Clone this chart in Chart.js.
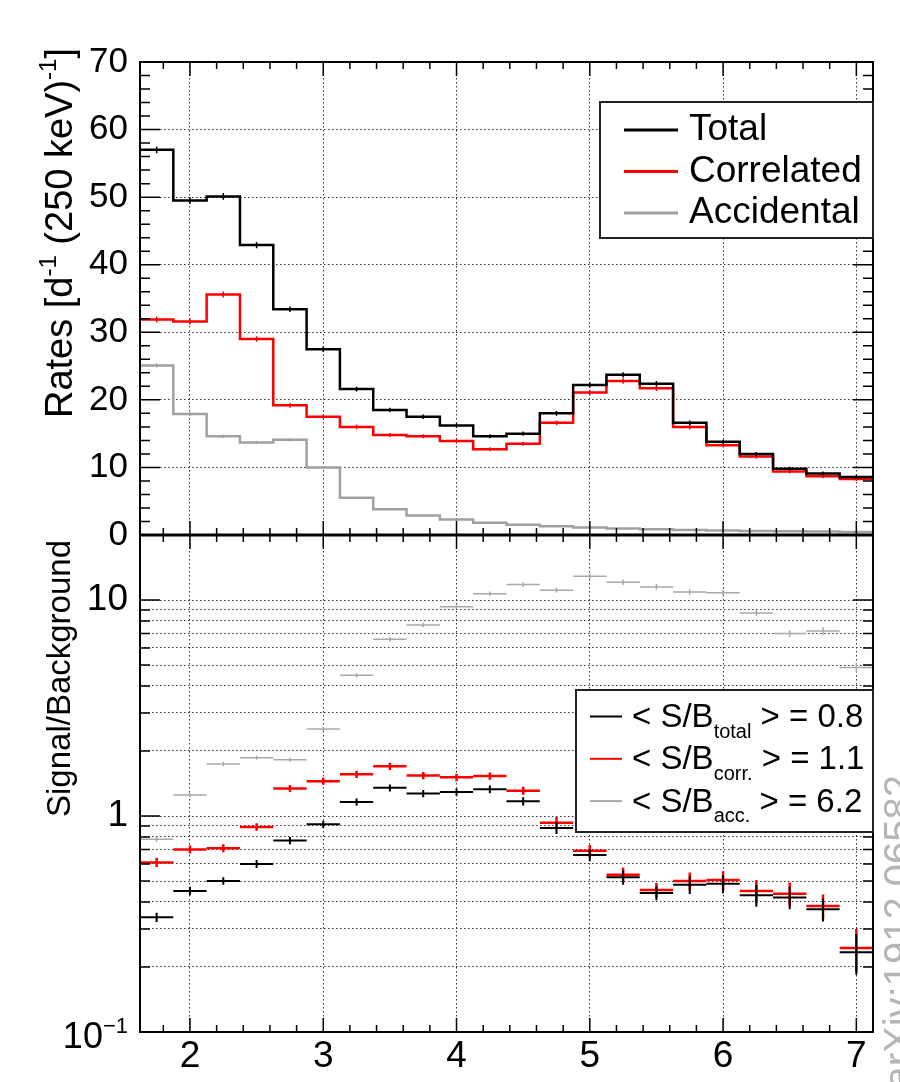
<!DOCTYPE html>
<html>
<head>
<meta charset="utf-8">
<title>Rates and signal/background</title>
<script src="https://cdn.jsdelivr.net/npm/chart.js@4.4.1/dist/chart.umd.min.js"></script>
<style>
    html, body { margin: 0; padding: 0; background: #fff; }
    .stage { position: relative; width: 900px; height: 1082px; }
    .stage canvas { position: absolute; left: 0; top: 0; }
</style>
</head>
<body>
<div class="stage">
    <canvas id="ratesChart" width="900" height="1082"></canvas>
    <canvas id="ratioChart" width="900" height="1082"></canvas>
</div>
<script>
// energy bins, 250 keV wide
const binCenters = [1.75, 2.0, 2.25, 2.5, 2.75, 3.0, 3.25, 3.5, 3.75, 4.0, 4.25,
    4.5, 4.75, 5.0, 5.25, 5.5, 5.75, 6.0, 6.25, 6.5, 6.75, 7.0];
const binWidth = 0.25;
const energyTicks = [2, 3, 4, 5, 6, 7];
const rateTicks = [0, 10, 20, 30, 40, 50, 60, 70];
const ratioTicks = [0.1, 0.2, 0.3, 0.4, 0.5, 0.6, 0.7, 0.8, 0.9, 1, 2, 3, 4, 5, 6, 7, 8, 9, 10, 20];
const ratioLabels = { 1: '1', 10: '10' };

// rates [d^-1 (250 keV)^-1]
const seriesNames = ['Total', 'Correlated', 'Accidental'];
const totalRates = [57.0, 49.5, 50.1, 42.9, 33.4, 27.5, 21.6, 18.5, 17.5, 16.2, 14.6,
    15.0, 18.0, 22.2, 23.7, 22.4, 16.6, 13.8, 12.0, 9.8, 9.1, 8.6];
const correlatedRates = [31.9, 31.6, 35.6, 29.0, 19.2, 17.5, 16.0, 14.8, 14.6, 13.9, 12.7,
    13.5, 16.6, 21.1, 22.8, 21.7, 16.0, 13.3, 11.6, 9.4, 8.7, 8.3];
const accidentalRates = [25.1, 17.9, 14.6, 13.7, 14.1, 10.0, 5.5, 3.8, 2.9, 2.3, 1.8,
    1.5, 1.3, 1.1, 0.95, 0.85, 0.75, 0.65, 0.6, 0.55, 0.5, 0.45];
const totalErr = [0.5, 0.5, 0.5, 0.45, 0.4, 0.4, 0.35, 0.35, 0.35, 0.35, 0.3,
    0.3, 0.35, 0.4, 0.4, 0.4, 0.35, 0.3, 0.3, 0.3, 0.3, 0.3];
const correlatedErr = [0.45, 0.45, 0.45, 0.4, 0.35, 0.35, 0.35, 0.3, 0.3, 0.3, 0.3,
    0.3, 0.35, 0.4, 0.4, 0.4, 0.35, 0.3, 0.3, 0.3, 0.3, 0.3];
const accidentalErr = [0.3, 0.25, 0.25, 0.25, 0.25, 0.2, 0.15, 0.1, 0.1, 0.1, 0.1,
    0.1, 0.1, 0.1, 0.1, 0.1, 0.1, 0.1, 0.1, 0.1, 0.1, 0.1];

// signal / background
const sbNames = ['total', 'corr.', 'acc.'];
const sbMeans = ['0.8', '1.1', '6.2'];
const sbTotal = [0.34, 0.45, 0.50, 0.60, 0.77, 0.915, 1.16, 1.35, 1.27, 1.29, 1.33,
    1.17, 0.88, 0.66, 0.52, 0.44, 0.48, 0.486, 0.43, 0.42, 0.37, 0.234];
const sbCorrelated = [0.61, 0.70, 0.71, 0.89, 1.34, 1.45, 1.56, 1.70, 1.54, 1.51, 1.53,
    1.31, 0.93, 0.69, 0.535, 0.455, 0.50, 0.505, 0.45, 0.437, 0.383, 0.245];
const sbAccidental = [0.78, 1.25, 1.74, 1.86, 1.82, 2.53, 4.48, 6.58, 7.66, 9.3, 10.7,
    11.8, 11.1, 12.9, 12.1, 11.5, 10.9, 10.8, 8.7, 6.99, 7.18, 4.87];
const sbTotalErr = [0.017, 0.02, 0.02, 0.025, 0.03, 0.035, 0.045, 0.05, 0.05, 0.05, 0.055,
    0.05, 0.055, 0.043, 0.04, 0.033, 0.045, 0.047, 0.05, 0.05, 0.045, 0.05];
const sbCorrelatedErr = [0.03, 0.03, 0.03, 0.035, 0.05, 0.055, 0.06, 0.065, 0.06, 0.06, 0.06,
    0.055, 0.06, 0.045, 0.042, 0.035, 0.047, 0.05, 0.055, 0.055, 0.05, 0.055];
const sbAccidentalErr = [0.02, 0.03, 0.04, 0.04, 0.04, 0.06, 0.1, 0.15, 0.18, 0.2, 0.25,
    0.3, 0.3, 0.35, 0.35, 0.35, 0.35, 0.35, 0.3, 0.25, 0.3, 0.25];

const FONT = '"Liberation Sans", Arial, Helvetica, sans-serif';
const BLACK = '#000000';
const RED = '#ff0000';
const GRAY = '#a0a0a0';

Chart.defaults.font.family = FONT;
Chart.defaults.color = '#000';

// ROOT-like minor ticks
const minorEnergyTicks = [];
for (let i = 9; i <= 35; i++) if (i % 5) minorEnergyTicks.push(i / 5);
const minorRateTicks = [];
for (let v = 2; v < 70; v += 2) if (v % 10) minorRateTicks.push(v);
const majorRatioTicks = [0.1, 1, 10];
const minorRatioTicks = ratioTicks.filter(v => !majorRatioTicks.includes(v));

function drawRich(ctx, parts, x, y, size, align) {
    const fontOf = p => ((p.sup || p.sub) ? Math.round(size * 0.62) : size) + 'px ' + FONT;
    let w = 0;
    parts.forEach(p => { ctx.font = fontOf(p); p.w = ctx.measureText(p.t).width; w += p.w; });
    let cx = align === 'right' ? x - w : x;
    parts.forEach(p => {
        ctx.font = fontOf(p);
        const dy = p.sup ? -size * 0.42 : (p.sub ? size * 0.32 : 0);
        ctx.fillText(p.t, cx, y + dy);
        cx += p.w;
    });
}

function drawRotated(ctx, item) {
    ctx.save();
    ctx.translate(item.x, item.yEnd);
    ctx.rotate(-Math.PI / 2);
    ctx.fillStyle = item.color || '#000';
    ctx.textBaseline = 'alphabetic';
    drawRich(ctx, item.parts, 0, 0, item.size, 'right');
    ctx.restore();
}

function halfBinPx(chart) {
    const x = chart.scales.x;
    return Math.abs(x.getPixelForValue(binWidth) - x.getPixelForValue(0)) / 2;
}

const rootStyle = {
    id: 'rootStyle',
    afterDatasetDraw(chart, args) {
        const ds = chart.data.datasets[args.index];
        if (!ds.errors) return;
        const { ctx, chartArea: a, scales: { x, y } } = chart;
        ctx.save();
        ctx.beginPath();
        ctx.rect(a.left, a.top, a.width, a.height);
        ctx.clip();
        ctx.strokeStyle = ds.borderColor;
        ctx.lineWidth = ds.errorWidth;
        ctx.beginPath();
        ds.errors.forEach((e, i) => {
            const px = x.getPixelForValue(binCenters[i]);
            ctx.moveTo(px, y.getPixelForValue(ds.values[i] - e));
            ctx.lineTo(px, y.getPixelForValue(ds.values[i] + e));
        });
        ctx.stroke();
        ctx.restore();
    },
    afterDraw(chart, args, opts) {
        const { ctx, chartArea: a, scales: { x, y } } = chart;
        ctx.save();
        ctx.strokeStyle = '#000';
        ctx.lineWidth = 1.5;
        ctx.beginPath();
        const xTick = (v, len) => {
            const px = x.getPixelForValue(v);
            ctx.moveTo(px, a.bottom); ctx.lineTo(px, a.bottom - len);
            ctx.moveTo(px, a.top); ctx.lineTo(px, a.top + len);
        };
        const yTick = (v, len) => {
            const py = y.getPixelForValue(v);
            ctx.moveTo(a.left, py); ctx.lineTo(a.left + len, py);
            ctx.moveTo(a.right, py); ctx.lineTo(a.right - len, py);
        };
        opts.xMajor.forEach(v => xTick(v, 14));
        opts.xMinor.forEach(v => xTick(v, 7));
        opts.yMajor.forEach(v => yTick(v, 20));
        opts.yMinor.forEach(v => yTick(v, 10));
        ctx.stroke();

        ctx.lineWidth = 2;
        ctx.strokeRect(a.left, a.top, a.width, a.height);
        if (opts.heavyBottom) {
            ctx.lineWidth = 3;
            ctx.beginPath();
            ctx.moveTo(a.left, a.bottom); ctx.lineTo(a.right, a.bottom);
            ctx.stroke();
        }

        if (opts.legend) {
            const L = opts.legend;
            const [x1, y1, x2, y2] = L.box;
            ctx.fillStyle = '#fff';
            ctx.fillRect(x1, y1, x2 - x1, y2 - y1);
            ctx.strokeStyle = '#222';
            ctx.lineWidth = 2;
            ctx.strokeRect(x1, y1, x2 - x1, y2 - y1);
            ctx.textBaseline = 'alphabetic';
            L.rows.forEach((r, i) => {
                const base = L.baseline + i * L.step;
                ctx.strokeStyle = r.color;
                ctx.lineWidth = L.lineWidth;
                ctx.beginPath();
                ctx.moveTo(L.lineX[0], base - L.lineOffset);
                ctx.lineTo(L.lineX[1], base - L.lineOffset);
                ctx.stroke();
                ctx.fillStyle = '#000';
                drawRich(ctx, r.parts, L.textX, base, L.size);
            });
        }

        (opts.labels || []).forEach(l => {
            ctx.fillStyle = '#000';
            ctx.textBaseline = 'alphabetic';
            drawRich(ctx, l.parts, l.x, y.getPixelForValue(l.value) + l.dy, l.size, 'right');
        });
        (opts.rotated || []).forEach(item => drawRotated(ctx, item));
        ctx.restore();
    }
};
Chart.register(rootStyle);

const gridOpts = { color: '#333', lineWidth: 1, drawTicks: false };
const borderOpts = { display: false, dash: [1.5, 2.5] };

function histSet(label, values, errors, color) {
    const pts = binCenters.map((c, i) => ({ x: c - binWidth / 2, y: values[i] }));
    pts.push({ x: binCenters[binCenters.length - 1] + binWidth / 2, y: values[values.length - 1] });
    return {
        label: label, values: values, errors: errors, errorWidth: 1.5,
        data: pts, borderColor: color, backgroundColor: color,
        borderWidth: 2.5, stepped: true, pointRadius: 0, fill: false,
    };
}

function ratioSet(label, values, errors, color, width) {
    return {
        label: label, values: values, errors: errors, errorWidth: width,
        data: binCenters.map((c, i) => ({ x: c, y: values[i] })),
        borderColor: color, backgroundColor: color,
        pointStyle: 'line',
        pointRadius: ctx => halfBinPx(ctx.chart),
        pointBorderColor: color,
        pointBorderWidth: width,
        showLine: false,
    };
}

const histColors = [BLACK, RED, GRAY];

new Chart(document.getElementById('ratesChart'), {
    type: 'line',
    data: {
        datasets: [
            histSet(seriesNames[0], totalRates, totalErr, BLACK),
            histSet(seriesNames[1], correlatedRates, correlatedErr, RED),
            histSet(seriesNames[2], accidentalRates, accidentalErr, GRAY),
        ],
    },
    options: {
        responsive: false,
        animation: false,
        events: [],
        layout: { padding: { left: 0, top: 62, right: 27, bottom: 547 } },
        plugins: {
            legend: { display: false },
            tooltip: { enabled: false },
            rootStyle: {
                xMajor: energyTicks, xMinor: minorEnergyTicks,
                yMajor: rateTicks, yMinor: minorRateTicks,
                heavyBottom: true,
                legend: {
                    box: [600, 102, 873, 238], lineX: [624, 678], lineWidth: 3,
                    textX: 689, baseline: 140, step: 41.5, lineOffset: 10, size: 37,
                    rows: seriesNames.map((n, i) => ({ color: histColors[i], parts: [{ t: n }] })),
                },
                rotated: [{
                    x: 72, yEnd: 48, size: 38,
                    parts: [{ t: 'Rates [d' }, { t: '-1', sup: true }, { t: ' (250 keV)' }, { t: '-1', sup: true }, { t: ']' }],
                }],
            },
        },
        scales: {
            x: {
                type: 'linear', min: 1.625, max: 7.125,
                afterBuildTicks: s => { s.ticks = energyTicks.map(v => ({ value: v })); },
                afterFit: s => { s.height = 0; },
                ticks: { display: false, autoSkip: false },
                grid: gridOpts, border: borderOpts,
            },
            y: {
                type: 'linear', min: 0, max: 70,
                afterBuildTicks: s => { s.ticks = rateTicks.map(v => ({ value: v })); },
                afterFit: s => { s.width = 140; },
                ticks: { font: { size: 35 }, padding: 12, color: '#000', autoSkip: false },
                grid: gridOpts, border: borderOpts,
            },
        },
    },
});

const ratioColors = [BLACK, RED, '#a8a8a8'];

new Chart(document.getElementById('ratioChart'), {
    type: 'scatter',
    data: {
        datasets: [
            ratioSet(sbNames[0], sbTotal, sbTotalErr, BLACK, 2),
            ratioSet(sbNames[1], sbCorrelated, sbCorrelatedErr, RED, 2.5),
            ratioSet(sbNames[2], sbAccidental, sbAccidentalErr, '#a8a8a8', 1.5),
        ],
    },
    options: {
        responsive: false,
        animation: false,
        events: [],
        layout: { padding: { left: 0, top: 535, right: 27, bottom: 0 } },
        plugins: {
            legend: { display: false },
            tooltip: { enabled: false },
            rootStyle: {
                xMajor: energyTicks, xMinor: minorEnergyTicks,
                yMajor: majorRatioTicks, yMinor: minorRatioTicks,
                legend: {
                    box: [576, 690, 873, 832], lineX: [590, 622], lineWidth: 2,
                    textX: 632, baseline: 727, step: 42.3, lineOffset: 10.5, size: 33,
                    rows: sbNames.map((n, i) => ({
                        color: ratioColors[i],
                        parts: [{ t: '< S/B' }, { t: n, sub: true }, { t: ' > = ' + sbMeans[i] }],
                    })),
                },
                labels: [{ value: 0.1, dy: 16, x: 128, size: 36, parts: [{ t: '10' }, { t: '\u22121', sup: true }] }],
                rotated: [
                    { x: 70, yEnd: 540, size: 33, parts: [{ t: 'Signal/Background' }] },
                    { x: 912, yEnd: 775, size: 40, color: '#b5b5b5', parts: [{ t: 'arXiv:1912.06582' }] },
                ],
            },
        },
        scales: {
            x: {
                type: 'linear', min: 1.625, max: 7.125,
                afterBuildTicks: s => { s.ticks = energyTicks.map(v => ({ value: v })); },
                afterFit: s => { s.height = 50; },
                ticks: { font: { size: 37 }, padding: 3, color: '#000', autoSkip: false },
                grid: gridOpts, border: borderOpts,
            },
            y: {
                type: 'logarithmic', min: 0.1, max: 20,
                afterBuildTicks: s => { s.ticks = ratioTicks.map(v => ({ value: v })); },
                afterFit: s => { s.width = 140; },
                ticks: {
                    font: { size: 37 }, padding: 12, color: '#000', autoSkip: false,
                    callback: v => ratioLabels[v] || '',
                },
                grid: gridOpts, border: borderOpts,
            },
        },
    },
});
</script>
</body>
</html>
